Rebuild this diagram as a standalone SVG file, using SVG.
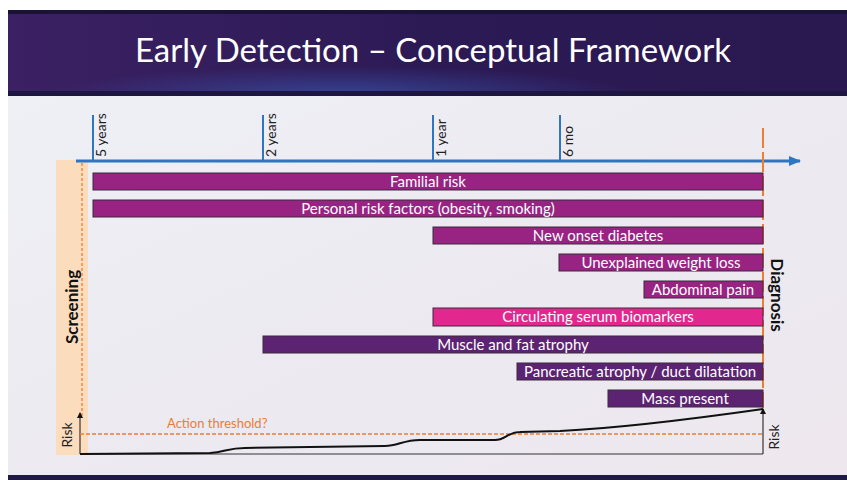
<svg xmlns="http://www.w3.org/2000/svg" width="847" height="480" viewBox="0 0 847 480">
<defs>
<linearGradient id="hdr" x1="0" y1="0" x2="1" y2="0">
<stop offset="0" stop-color="#3b2163"/>
<stop offset="0.5" stop-color="#2c1a55"/>
<stop offset="1" stop-color="#2a1850"/>
</linearGradient>
<radialGradient id="glow" cx="0.4" cy="1" r="0.35">
<stop offset="0" stop-color="#3a55b0" stop-opacity="0.7"/>
<stop offset="1" stop-color="#3a55b0" stop-opacity="0"/>
</radialGradient>
<linearGradient id="bg" x1="0" y1="0" x2="1" y2="1">
<stop offset="0" stop-color="#eef0f5"/>
<stop offset="0.6" stop-color="#ece9f0"/>
<stop offset="1" stop-color="#eee8ee"/>
</linearGradient>
<marker id="blueArrow" markerWidth="12" markerHeight="10" refX="11" refY="5" orient="auto" markerUnits="userSpaceOnUse">
<path d="M0,0 L12,5 L0,10 z" fill="#2e75c4"/>
</marker>
<marker id="blackArrow" markerWidth="6" markerHeight="6" refX="5" refY="3" orient="auto" markerUnits="userSpaceOnUse">
<path d="M0,0 L6,3 L0,6 z" fill="#111"/>
</marker>
<style>
.title{font-family:Lato,"Liberation Sans",sans-serif;font-size:33px;fill:#fff}
.bar{stroke:#3a2a3a;stroke-width:1}
.b1{fill:#992383}
.b2{fill:#e2288e}
.b3{fill:#5c2373}
.bt{font-family:Lato,"Liberation Sans",sans-serif;font-size:15px;fill:#fff;text-anchor:middle}
.tick{stroke:#2e75c4;stroke-width:2}
.tl{font-family:Lato,"Liberation Sans",sans-serif;font-size:14px;fill:#222}
.bold{font-family:Lato,"Liberation Sans",sans-serif;font-size:17px;font-weight:bold;fill:#111;text-anchor:middle}
.risk{font-family:Lato,"Liberation Sans",sans-serif;font-size:14px;fill:#222;text-anchor:middle}
.orange{fill:#ed7d31;font-family:Lato,"Liberation Sans",sans-serif;font-size:13px}
</style>
</defs>
<rect x="0" y="0" width="847" height="480" fill="#fff"/>
<rect x="8" y="95" width="839" height="380" fill="url(#bg)"/>
<rect x="8" y="10" width="839" height="86" fill="url(#hdr)"/>
<rect x="8" y="10" width="839" height="86" fill="url(#glow)"/>
<rect x="8" y="10" width="839" height="4" fill="#1b1238"/>
<rect x="8" y="91" width="839" height="5" fill="#1c1640"/>
<rect x="8" y="475" width="839" height="5" fill="#1f1a45"/>
<text class="title" x="433" y="62" text-anchor="middle">Early Detection – Conceptual Framework</text>

<g id="screening">
<rect x="56" y="160" width="32" height="295" fill="#fbdcbc"/>
<text class="bold" transform="translate(78,307) rotate(-90)">Screening</text>
</g>

<g id="connectors">
<line x1="76" y1="161" x2="800" y2="161" stroke="#2e75c4" stroke-width="3" marker-end="url(#blueArrow)"/>
<line class="tick" x1="93" y1="115" x2="93" y2="161"/>
<line class="tick" x1="263" y1="115" x2="263" y2="161"/>
<line class="tick" x1="433" y1="115" x2="433" y2="161"/>
<line class="tick" x1="560" y1="115" x2="560" y2="161"/>
<line x1="82" y1="163" x2="82" y2="418" stroke="#ed7d31" stroke-width="1.3" stroke-dasharray="3 2"/>
<line x1="763" y1="128" x2="763" y2="408" stroke="#ed7d31" stroke-width="2" stroke-dasharray="20 4"/>
<line x1="80" y1="454" x2="763" y2="454" stroke="#333" stroke-width="1"/>
<line x1="80" y1="454" x2="80" y2="413" stroke="#111" stroke-width="1" marker-end="url(#blackArrow)"/>
<line x1="763" y1="454" x2="763" y2="409" stroke="#111" stroke-width="1" marker-end="url(#blackArrow)"/>
<line x1="80" y1="434" x2="763" y2="434" stroke="#ed7d31" stroke-width="1.3" stroke-dasharray="4 2"/>
<path d="M80,454 L210,453 C225,452 228,448 245,448 L385,446 C398,446 403,440 420,440 L495,440 C505,440 508,432 520,432 L560,431 C620,428 700,418 763,409" fill="none" stroke="#111" stroke-width="2"/>
</g>

<g id="ticklabels">
<text class="tl" transform="translate(106,157) rotate(-90)">5 years</text>
<text class="tl" transform="translate(276,157) rotate(-90)">2 years</text>
<text class="tl" transform="translate(446,157) rotate(-90)">1 year</text>
<text class="tl" transform="translate(573,157) rotate(-90)">6 mo</text>
</g>

<g id="familial"><rect class="bar b1" x="93" y="173" width="670" height="17"/><text class="bt" x="428" y="186.5">Familial risk</text></g>
<g id="personal"><rect class="bar b1" x="93" y="200" width="670" height="17"/><text class="bt" x="428" y="213.5">Personal risk factors (obesity, smoking)</text></g>
<g id="diabetes"><rect class="bar b1" x="433" y="227" width="330" height="17"/><text class="bt" x="598" y="240.5">New onset diabetes</text></g>
<g id="weightloss"><rect class="bar b1" x="559" y="254" width="204" height="17"/><text class="bt" x="661" y="267.5">Unexplained weight loss</text></g>
<g id="abdominal"><rect class="bar b1" x="644" y="281" width="119" height="17"/><text class="bt" x="703" y="294.5">Abdominal pain</text></g>
<g id="biomarkers"><rect class="bar b2" x="433" y="308" width="330" height="18"/><text class="bt" x="598" y="321.5">Circulating serum biomarkers</text></g>
<g id="atrophy"><rect class="bar b3" x="263" y="336" width="500" height="17"/><text class="bt" x="513" y="349.5">Muscle and fat atrophy</text></g>
<g id="pancreatic"><rect class="bar b3" x="517" y="363" width="246" height="17"/><text class="bt" x="640" y="376.5">Pancreatic atrophy / duct dilatation</text></g>
<g id="mass"><rect class="bar b3" x="608" y="390" width="155" height="17"/><text class="bt" x="685" y="403.5">Mass present</text></g>

<g id="diagnosis"><text class="bold" transform="translate(771,295) rotate(90)">Diagnosis</text></g>
<g id="riskleft"><text class="risk" transform="translate(72,435) rotate(-90)">Risk</text></g>
<g id="riskright"><text class="risk" transform="translate(779,437) rotate(-90)">Risk</text></g>
<g id="threshold"><text class="orange" x="167" y="428">Action threshold?</text></g>
</svg>
